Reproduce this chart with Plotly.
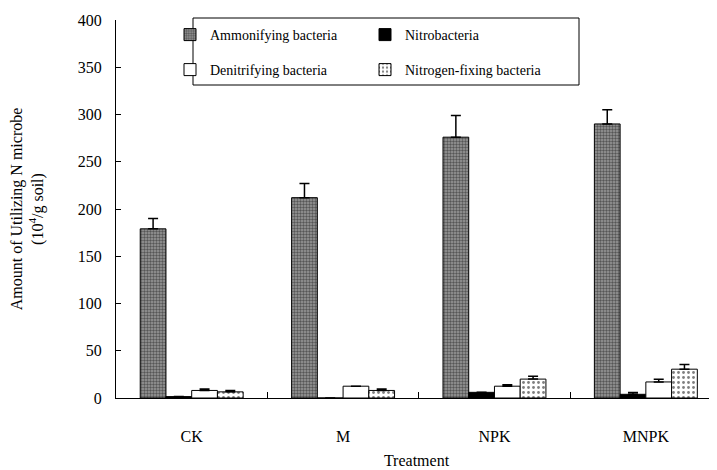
import plotly.graph_objects as go

categories = ["CK", "M", "NPK", "MNPK"]
series_names = ["Ammonifying bacteria", "Nitrobacteria", "Denitrifying bacteria", "Nitrogen-fixing bacteria"]
ammonifying = [179, 212, 276, 290]
ammonifying_err = [11, 15, 23, 15]
nitro = [1.5, 0, 6, 3.9]
nitro_err = [None, None, None, 1.8]
denitrifying = [8, 12.5, 12.5, 17]
denitrifying_err = [1.5, None, 1.5, 2.8]
nitrogen_fixing = [6.5, 8, 20, 30.5]
nitrogen_fixing_err = [1.5, 1.5, 3.1, 5]
y_ticks = [0, 50, 100, 150, 200, 250, 300, 350, 400]

FONT = "Liberation Serif"

styles = [
    dict(color="#8c8c8c", pattern=dict(shape=".", fgcolor="#111111", bgcolor="#9a9a9a", size=3, solidity=0.5)),
    dict(color="black"),
    dict(color="white"),
    dict(color="white", pattern=dict(shape=".", fgcolor="black", bgcolor="white", size=5, solidity=0.25)),
]
values = [ammonifying, nitro, denitrifying, nitrogen_fixing]
errors = [ammonifying_err, nitro_err, denitrifying_err, nitrogen_fixing_err]
legends = ["legend", "legend", "legend2", "legend2"]

fig = go.Figure()
for name, vals, errs, st, lg in zip(series_names, values, errors, styles, legends):
    marker = dict(color=st["color"], line=dict(color="black", width=1))
    if "pattern" in st:
        marker["pattern"] = st["pattern"]
    fig.add_trace(go.Bar(
        x=categories, y=vals, name=name, marker=marker, legend=lg,
        error_y=dict(type="data", array=errs, arrayminus=[0] * 4, symmetric=False,
                     color="black", thickness=1.5, width=5),
    ))

# page has an 8px body margin: figure drawn at offset (8, 8)
OFF = 8
W, H = 717 - OFF, 470 - OFF
ml, mr, mt, mb = 108, 0, 12, 72
pw, ph = W - ml - mr, H - mt - mb

def px_x(p):
    return (p - OFF - ml) / pw

def px_y(p):
    return (H - mb - (p - OFF)) / ph

fig.update_layout(
    width=W, height=H,
    margin=dict(l=ml, r=mr, t=mt, b=mb, autoexpand=False),
    paper_bgcolor="white", plot_bgcolor="white",
    barmode="group", bargap=0.32, bargroupgap=0,
    font=dict(family=FONT, size=14, color="black"),
    legend=dict(orientation="h", x=px_x(170), xanchor="left", y=px_y(35), yanchor="middle",
                entrywidth=150, traceorder="normal", font=dict(size=14, family=FONT),
                bgcolor="rgba(0,0,0,0)", itemwidth=30),
    legend2=dict(orientation="h", x=px_x(170), xanchor="left", y=px_y(70), yanchor="middle",
                 entrywidth=150, traceorder="normal", font=dict(size=14, family=FONT),
                 bgcolor="rgba(0,0,0,0)", itemwidth=30),
    shapes=[dict(type="rect", xref="paper", yref="paper",
                 x0=px_x(193), x1=px_x(579), y0=px_y(85), y1=px_y(18),
                 line=dict(color="black", width=1))],
)
fig.update_xaxes(
    type="category", range=[-0.5, 3.47], showline=True, linecolor="black", linewidth=1,
    ticks="inside", ticklen=6, tickcolor="black", tickson="boundaries",
    tickfont=dict(size=16, family=FONT), ticklabelstandoff=24,
    title=dict(text="Treatment", font=dict(size=16, family=FONT), standoff=10),
    showgrid=False, zeroline=False,
)
fig.update_yaxes(
    range=[0, 400], tickvals=y_ticks, showline=True, linecolor="black", linewidth=1,
    ticks="inside", ticklen=5, tickcolor="black",
    tickfont=dict(size=16, family=FONT), ticklabelstandoff=10,
    title=dict(text="Amount of Utilizing N microbe<br>(10<sup>4</sup>/g soil)",
               font=dict(size=16, family=FONT), standoff=30),
    showgrid=False, zeroline=False,
)

fig.write_html("out.html")
